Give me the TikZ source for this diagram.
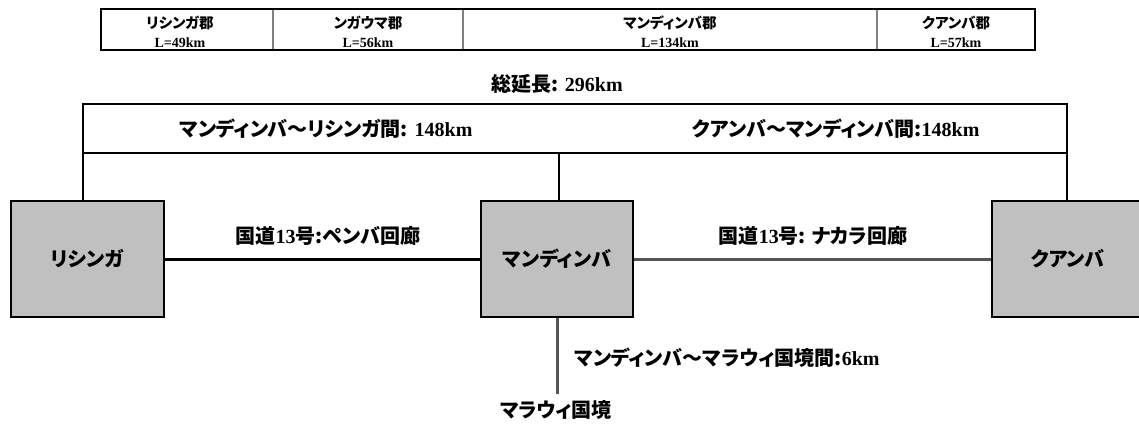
\documentclass[tikz,border=0pt]{standalone}
\usepackage{fontspec}
\setmainfont{Liberation Serif}
\newfontfamily\jp[RawFeature=+palt]{Noto Sans CJK JP}
\definecolor{boxgray}{HTML}{C0C0C0}
\definecolor{roadgray}{HTML}{555555}
\definecolor{divgray}{HTML}{7F7F7F}
\newcommand{\J}[1]{{\jp\bfseries #1}}
\newcommand{\JT}[1]{{\jp\bfseries\fontsize{14.5}{19}\selectfont #1}}
\tikzset{
  city/.style={draw=black, line width=2pt, fill=boxgray, minimum width=153pt, minimum height=116pt, inner sep=0pt, font=\bfseries\fontsize{20}{20}\selectfont},
  lbl/.style={inner sep=0pt, font=\bfseries\fontsize{20}{20}\selectfont},
  tlbl/.style={inner sep=0pt, align=center, font=\bfseries\fontsize{14}{19}\selectfont},
  frame/.style={draw=black, line width=1.2pt},
  roadblack/.style={draw=black, line width=3pt},
  roadgr/.style={draw=roadgray, line width=3pt},
}
\begin{document}
\begin{tikzpicture}[x=1pt,y=-1pt]
\useasboundingbox (0,0) rectangle (1139,428);
% top table
\draw[divgray, line width=1.5pt] (273,9) -- (273,50) (463,9) -- (463,50) (877,9) -- (877,50);
\draw[black, line width=1.5pt] (101,9) rectangle (1035,50);
\node[tlbl] (t1) at (180,32) {\JT{リシンガ郡}\\L=49km};
\node[tlbl] (t2) at (368,32) {\JT{ンガウマ郡}\\L=56km};
\node[tlbl] (t3) at (670,32) {\JT{マンディンバ郡}\\L=134km};
\node[tlbl] (t4) at (956,32) {\JT{クアンバ郡}\\L=57km};
% total
\node[lbl] (tot) at (557,84) {\J{総延長}\J{:} 296km};
% cities
\node[city] (lis) at (87.5,259) {\J{リシンガ}};
\node[city, minimum width=152pt] (man) at (557,259) {\J{マンディンバ}};
\node[city, minimum width=152pt] (cua) at (1068,259) {\J{クアンバ}};
% frame
\draw[frame] (83,104) rectangle (1067,153);
\coordinate (fl) at (83,153);
\coordinate (fm) at (559,153);
\coordinate (fr) at (1067,153);
\draw[frame] (fl) -- (fl |- lis.north);
\draw[frame] (fm) -- (fm |- man.north);
\draw[frame] (fr) -- (fr |- cua.north);
\node[lbl] (d1) at (326,129) {\J{マンディンバ〜リシンガ間}\J{:} 148km};
\node[lbl] (d2) at (836,129) {\J{クアンバ〜マンディンバ間}\J{:}148km};
% roads
\draw[roadblack] (lis.east) -- (man.west);
\draw[roadgr] (man.east) -- (cua.west);
\coordinate (mend) at (557,394);
\draw[roadgr] (man.south) -- (mend);
\node[lbl] (r1) at (328,236) {\J{国道}13\J{号:ペンバ回廊}};
\node[lbl] (r2) at (813,236) {\J{国道}13\J{号: ナカラ回廊}};
\node[lbl] (r3) at (727,358) {\J{マンディンバ〜マラウィ国境間:}6km};
\node[lbl] (mal) at (556,410) {\J{マラウィ国境}};
\end{tikzpicture}
\end{document}
